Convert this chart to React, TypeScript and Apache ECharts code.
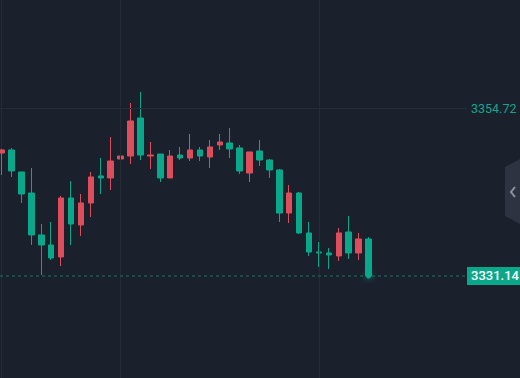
import React, { useEffect, useRef } from "react";
import * as echarts from "echarts";

const opens = [3348.40, 3348.83, 3345.74, 3342.79, 3336.90, 3335.49, 3333.81, 3342.09, 3338.30, 3341.39, 3345.18, 3344.90, 3347.56, 3347.98, 3353.32, 3347.98, 3348.26, 3344.90, 3348.12, 3347.70, 3348.83, 3347.84, 3349.53, 3349.81, 3349.11, 3345.60, 3348.69, 3347.42, 3346.02, 3339.98, 3342.79, 3337.18, 3334.51, 3334.37, 3333.95, 3337.32, 3334.37, 3336.33];
const closes = [3348.83, 3345.88, 3342.65, 3336.90, 3335.49, 3333.67, 3342.09, 3338.44, 3341.39, 3345.04, 3344.90, 3347.28, 3347.98, 3352.90, 3348.12, 3348.12, 3344.90, 3347.98, 3347.70, 3348.83, 3347.98, 3349.25, 3349.95, 3348.97, 3345.88, 3348.55, 3347.42, 3346.02, 3339.98, 3342.79, 3337.18, 3334.51, 3334.37, 3334.09, 3337.18, 3334.37, 3336.33, 3331.14];
const lows = [3345.32, 3345.04, 3341.39, 3335.49, 3331.28, 3333.39, 3332.54, 3335.49, 3336.76, 3339.42, 3342.65, 3343.21, 3345.88, 3346.86, 3347.42, 3346.16, 3344.33, 3344.90, 3347.42, 3347.28, 3347.28, 3346.30, 3348.83, 3347.70, 3345.46, 3344.33, 3346.58, 3344.90, 3338.72, 3338.58, 3337.04, 3333.95, 3332.40, 3332.12, 3333.25, 3333.53, 3333.39, 3331.00];
const highs = [3348.97, 3349.11, 3345.74, 3346.30, 3338.44, 3338.72, 3342.37, 3344.47, 3342.65, 3345.74, 3347.70, 3350.65, 3349.81, 3355.42, 3356.97, 3349.95, 3348.26, 3348.83, 3349.25, 3351.07, 3349.25, 3350.23, 3351.07, 3351.91, 3349.53, 3348.55, 3350.23, 3347.56, 3346.16, 3343.91, 3342.93, 3338.72, 3335.91, 3335.07, 3337.88, 3339.56, 3337.18, 3336.61];

const refPrice = 3354.72;
const lastPrice = 3331.14;
const gridCandles = [12, 32];

const UP = "#de4d5c";
const DOWN = "#0aa88b";
const BG = "#1b202d";
const LINE = "#242c38";

export default function App() {
  const ref = useRef<HTMLDivElement>(null);
  useEffect(() => {
    const chart = echarts.init(ref.current!, null, { renderer: "svg" });
    const data = opens.map((o, i) => [i, o, closes[i], lows[i], highs[i]]);
    const lastIdx = opens.length - 1;
    chart.setOption({
      animation: false,
      backgroundColor: BG,
      grid: { left: 0, right: 53, top: 0, bottom: 0 },
      xAxis: {
        type: "value",
        min: -0.16,
        max: 46.93,
        show: false,
      },
      yAxis: {
        type: "value",
        position: "right",
        min: 3316.82,
        max: 3369.88,
        axisLine: { show: true, lineStyle: { color: LINE, width: 1 } },
        axisTick: { show: false },
        axisLabel: { show: false },
        splitLine: { show: false },
      },
      graphic: [
        {
          type: "polygon",
          shape: { points: [[520, 159], [505, 167], [505, 216], [520, 224]] },
          style: { fill: "#2e3341" },
        },
        {
          type: "polyline",
          shape: { points: [[515, 187], [511, 192], [515, 197]] },
          style: { stroke: "#8d94a2", lineWidth: 2, fill: "none" },
        },
      ],
      series: [
        {
          type: "candlestick",
          data,
          barWidth: 6,
          itemStyle: {
            color: UP,
            color0: DOWN,
            borderColor: UP,
            borderColor0: DOWN,
            borderWidth: 1,
          },
          markLine: {
            silent: true,
            symbol: ["none", "none"],
            data: [
              ...gridCandles.map((x) => ({
                xAxis: x,
                lineStyle: { color: LINE, width: 1, type: "solid" },
                label: { show: false },
              })),
              {
                yAxis: refPrice,
                lineStyle: { color: LINE, width: 1, type: "solid" },
                label: {
                  show: true,
                  position: "end",
                  distance: 4,
                  formatter: refPrice.toFixed(2),
                  color: "#14a58a",
                  fontSize: 12.5,
                  fontFamily: "Roboto",
                },
              },
              {
                yAxis: lastPrice,
                lineStyle: { color: "#1c4a49", width: 2, type: [3, 3] },
                label: {
                  show: true,
                  position: "end",
                  distance: 0,
                  formatter: lastPrice.toFixed(2),
                  color: "#ffffff",
                  fontSize: 13,
                  fontWeight: 500,
                  fontFamily: "Roboto",
                  backgroundColor: DOWN,
                  padding: [3, 4, 2, 4],
                },
              },
            ],
          },
          markPoint: {
            silent: true,
            symbol: "circle",
            symbolSize: 5,
            label: { show: false },
            itemStyle: { color: DOWN, shadowBlur: 6, shadowColor: DOWN },
            data: [{ coord: [lastIdx, lastPrice] }],
          },
        },
      ],
    });
    return () => chart.dispose();
  }, []);
  return (
    <div
      ref={ref}
      style={{ position: "fixed", left: 0, top: 0, width: 520, height: 378 }}
    />
  );
}
